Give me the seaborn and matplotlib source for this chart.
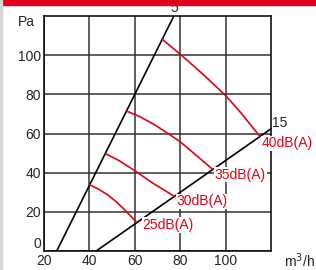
import pandas as pd
import matplotlib
matplotlib.use('Agg')
import matplotlib.pyplot as plt
import seaborn as sns
from matplotlib.patches import Rectangle

# fan characteristic lines (speed 5 and 15)
line5_x = [25.6, 77.2]
line5_y = [0, 120]
line15_x = [43.0, 120.0]
line15_y = [0, 62.4]

# noise curves, dB(A)
db25_x = [40.1, 44.0, 48.0, 52.0, 56.0, 60.7]
db25_y = [33.8, 31.6, 28.7, 25.0, 20.5, 14.8]
db30_x = [47.1, 53.0, 60.0, 68.0, 77.6]
db30_y = [49.7, 46.2, 41.0, 34.6, 27.8]
db35_x = [56.3, 62.0, 68.0, 74.0, 80.0, 87.0, 94.4]
db35_y = [71.5, 68.7, 65.0, 60.5, 55.8, 48.9, 41.6]
db40_x = [72.0, 80.0, 90.0, 100.0, 107.0, 114.9]
db40_y = [108.2, 100.5, 90.3, 79.4, 70.2, 58.8]

db_labels = ['25dB(A)', '30dB(A)', '35dB(A)', '40dB(A)']
db_label_x = [63.5, 78.3, 95.2, 115.7]
db_label_y = [13.3, 25.3, 39.0, 55.0]

x_ticks = [20, 40, 60, 80, 100]
y_ticks = [0, 20, 40, 60, 80, 100]

red = '#e2001a'

sns.set_style('white')
plt.rcParams['font.family'] = ['Liberation Sans', 'DejaVu Sans']

fig = plt.figure(figsize=(3.16, 2.70), dpi=100)
ax = fig.add_axes([44 / 316, 19 / 270, 227 / 316, 235 / 270])

# top red band and left grey edge
fig.patches.append(Rectangle((0, 1 - 4.7 / 270), 1, 4.7 / 270, transform=fig.transFigure,
                             color=red, zorder=0))
fig.patches.append(Rectangle((0, 0), 2 / 316, 1, transform=fig.transFigure,
                             color='#d4d4d4', zorder=0))

sns.lineplot(x=line5_x, y=line5_y, ax=ax, color='black', lw=1.2, sort=False, zorder=3)
sns.lineplot(x=line15_x, y=line15_y, ax=ax, color='black', lw=1.2, sort=False, zorder=3,
             clip_on=False)

for cx, cy in [(db25_x, db25_y), (db30_x, db30_y), (db35_x, db35_y), (db40_x, db40_y)]:
    d = pd.DataFrame({'x': cx, 'y': cy})
    sns.lineplot(data=d, x='x', y='y', ax=ax, color=red, lw=1.2, sort=False, zorder=4)

for lab, lx, ly in zip(db_labels, db_label_x, db_label_y):
    ax.text(lx, ly, lab, color=red, fontsize=10, ha='left', va='center', zorder=5,
            bbox=dict(facecolor='white', edgecolor='none', pad=0.5))

ax.text(120.3, 65.4, '15', fontsize=10, ha='left', va='center', clip_on=False)
ax.text(77.6, 124.1, '5', fontsize=10, ha='center', va='center', clip_on=False)
ax.text(12.3, 116.9, 'Pa', fontsize=10, ha='center', va='center', clip_on=False)
ax.text(125.9, -5.1, 'm$^3$/h', fontsize=10, ha='left', va='center', clip_on=False)

ax.set_xlim(20, 120)
ax.set_ylim(0, 120)
ax.set_xticks(x_ticks)
ax.set_yticks(y_ticks)
ax.set_xlabel('')
ax.set_ylabel('')
ax.grid(True, color='#333333', lw=1.1)
ax.set_axisbelow(True)
ax.tick_params(length=0, pad=2, labelsize=10)
# the "0" sits just above the x axis in the original
ax.yaxis.get_major_ticks()[0].label1.set_va('bottom')
for s in ax.spines.values():
    s.set_color('black')
    s.set_linewidth(1.1)

fig.savefig('out.png', dpi=100)
